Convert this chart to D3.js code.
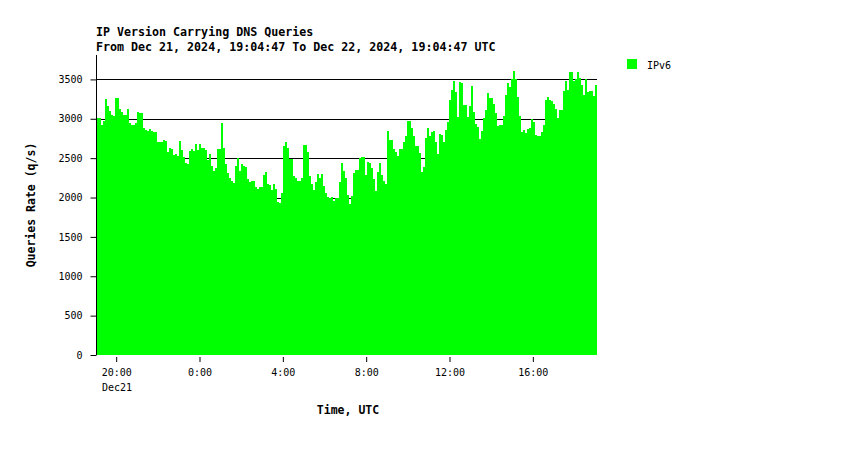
<!DOCTYPE html>
<html>
<head>
<meta charset="utf-8">
<script src="https://cdn.jsdelivr.net/npm/d3@7"></script>
<style>
  body { margin: 0; background: #fff; }
  svg text { font-family: "DejaVu Sans Mono", monospace; fill: #000; }
</style>
</head>
<body>
<svg id="chart" width="850" height="450"></svg>
<script>
// queries per second, IPv6, one bar per interval
var ipv6 = [
  3005,3005,2921,2972,3246,3162,3100,3048,3040,3263,
  3263,3124,3090,3048,3048,3124,2946,2921,2921,2946,
  3086,3073,3073,2883,2857,2849,2870,2849,2832,2832,
  2705,2705,2705,2730,2718,2578,2629,2616,2540,2553,
  2528,2718,2604,2515,2443,2430,2591,2616,2591,2680,
  2604,2680,2629,2629,2600,2477,2553,2400,2337,2375,
  2616,2616,2946,2629,2426,2312,2249,2211,2185,2401,
  2502,2337,2426,2400,2388,2236,2198,2211,2211,2134,
  2109,2134,2134,2287,2325,2173,2160,2097,2173,2109,
  1949,1936,2058,2654,2705,2629,2490,2490,2274,2249,
  2211,2211,2249,2667,2667,2578,2274,2173,2097,2198,
  2299,2249,2299,2147,2058,2008,1995,2008,1957,1995,
  1995,2198,2439,2337,2249,2033,1919,2020,2312,2350,
  2350,2502,2515,2515,2287,2452,2439,2375,2236,2084,
  2325,2439,2287,2211,2173,2845,2730,2730,2616,2578,
  2528,2616,2616,2705,2781,2972,2972,2883,2781,2654,
  2654,2566,2325,2388,2756,2883,2781,2832,2845,2705,
  2553,2807,2794,2705,2857,2959,3238,3365,3479,3339,
  3022,3466,3453,3174,3174,3022,3162,3415,3086,2933,
  2895,2743,2845,3010,3111,3327,3263,3263,3187,3073,
  2908,2921,2921,3035,3301,3453,3403,3504,3606,3504,
  3276,3035,2832,2857,2819,2870,2883,2997,2959,2794,
  2781,2781,2832,2921,3238,3276,3238,3225,3187,3124,
  3010,3111,3111,3352,3479,3365,3593,3593,3479,3504,
  3593,3517,3428,3301,3504,3339,3352,3352,3289,3428
];
var yTicks = [0, 500, 1000, 1500, 2000, 2500, 3000, 3500];
var xTicks = ["2024-12-21T20:00:00Z", "2024-12-22T00:00:00Z", "2024-12-22T04:00:00Z",
              "2024-12-22T08:00:00Z", "2024-12-22T12:00:00Z", "2024-12-22T16:00:00Z"];
var startTime = new Date("2024-12-21T19:04:47Z");
var endTime = new Date("2024-12-22T19:04:47Z");
var titleLines = ["IP Version Carrying DNS Queries",
                  "From Dec 21, 2024, 19:04:47 To Dec 22, 2024, 19:04:47 UTC"];
var seriesName = "IPv6";

var svg = d3.select("#chart");
var plotLeft = 97, plotRight = 597, plotTop = 55, plotBottom = 355;

var x = d3.scaleUtc()
    .domain([startTime, endTime])
    .range([plotLeft, plotRight]);

var y = d3.scaleLinear()
    .domain([0, 3810])
    .range([plotBottom, plotTop]);

var step = (endTime - startTime) / ipv6.length;
function barX(i) { return Math.round(x(new Date(+startTime + i * step))); }

// grid lines behind the bars
svg.append("g")
    .selectAll("line")
    .data(yTicks.filter(function(d) { return d > 0; }))
    .enter().append("line")
    .attr("x1", plotLeft)
    .attr("x2", plotRight)
    .attr("y1", function(d) { return Math.round(y(d)) + 0.5; })
    .attr("y2", function(d) { return Math.round(y(d)) + 0.5; })
    .attr("stroke", "#000")
    .attr("stroke-width", 1);

// bars
svg.append("g")
    .selectAll("rect")
    .data(ipv6)
    .enter().append("rect")
    .attr("x", function(d, i) { return barX(i); })
    .attr("width", function(d, i) { return barX(i + 1) - barX(i); })
    .attr("y", function(d) { return Math.round(y(d)); })
    .attr("height", function(d) { return plotBottom - Math.round(y(d)); })
    .attr("fill", "#00ff00")
    .attr("shape-rendering", "crispEdges");

// y axis
var yAxis = d3.axisLeft(y)
    .tickValues(yTicks)
    .tickSize(6)
    .tickPadding(8)
    .tickFormat(d3.format("d"));

var gy = svg.append("g")
    .attr("transform", "translate(96.5,0)")
    .call(yAxis);
gy.select(".domain").remove();
gy.append("line")
    .attr("x1", 0).attr("x2", 0)
    .attr("y1", plotTop).attr("y2", plotBottom)
    .attr("stroke", "#000");
gy.selectAll("text")
    .style("font-size", "10px")
    .style("font-family", "DejaVu Sans Mono, monospace");

// x axis
var xAxis = d3.axisBottom(x)
    .tickValues(xTicks.map(function(d) { return new Date(d); }))
    .tickSize(5)
    .tickPadding(7)
    .tickFormat(d3.utcFormat("%-H:%M"));

var gx = svg.append("g")
    .attr("transform", "translate(0," + (plotBottom + 2) + ")")
    .call(xAxis);
gx.select(".domain").remove();
gx.selectAll("text")
    .style("font-size", "10px")
    .style("font-family", "DejaVu Sans Mono, monospace");

svg.append("text")
    .attr("x", 102)
    .attr("y", 391)
    .style("font-size", "10px")
    .text("Dec21");

// titles
svg.selectAll("text.title")
    .data(titleLines)
    .enter().append("text")
    .attr("class", "title")
    .attr("x", 96)
    .attr("y", function(d, i) { return 36 + i * 15; })
    .style("font-size", "11.65px")
    .style("font-weight", "bold")
    .text(function(d) { return d; });

svg.append("text")
    .attr("x", 348)
    .attr("y", 414)
    .attr("text-anchor", "middle")
    .style("font-size", "11.5px")
    .style("font-weight", "bold")
    .text("Time, UTC");

svg.append("text")
    .attr("transform", "translate(35,205) rotate(-90)")
    .attr("text-anchor", "middle")
    .style("font-size", "11.5px")
    .style("font-weight", "bold")
    .text("Queries Rate (q/s)");

// legend
svg.append("rect")
    .attr("x", 627)
    .attr("y", 59)
    .attr("width", 10)
    .attr("height", 10)
    .attr("fill", "#00ff00");

svg.append("text")
    .attr("x", 647)
    .attr("y", 69)
    .style("font-size", "10px")
    .text(seriesName);
</script>
</body>
</html>
